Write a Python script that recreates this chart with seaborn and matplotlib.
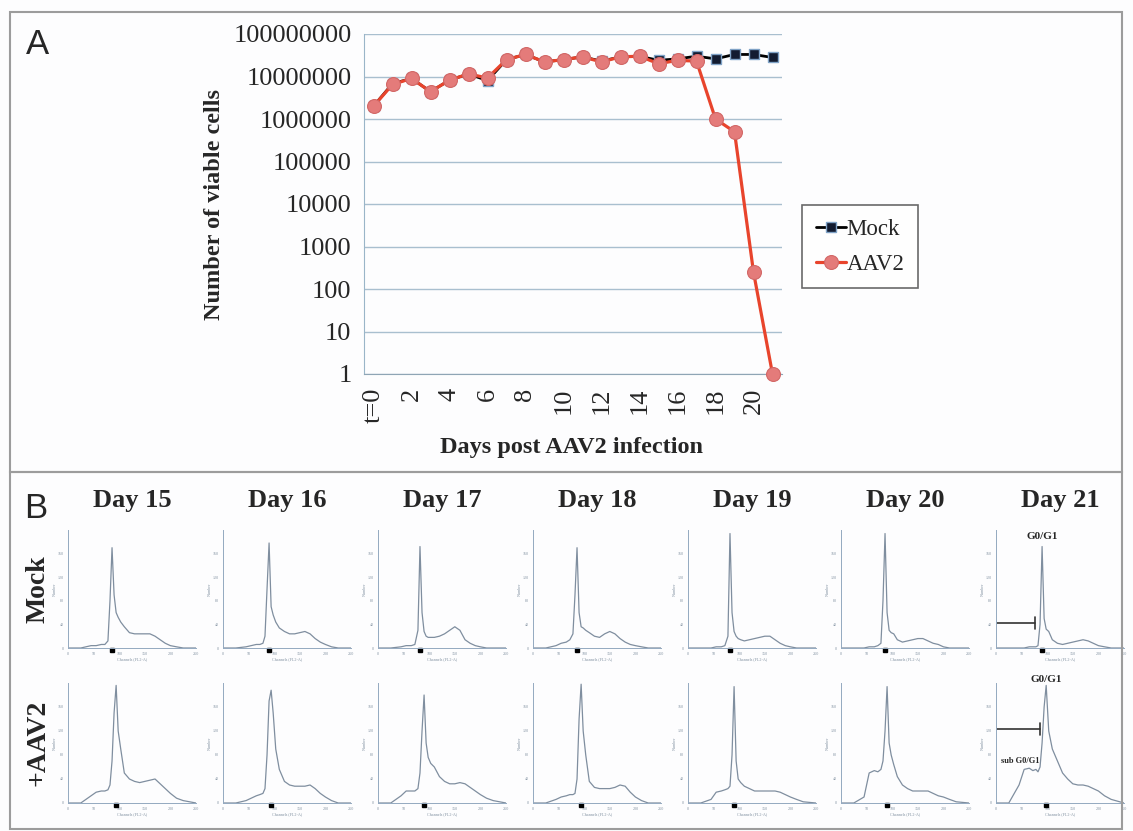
import numpy as np
import pandas as pd
import seaborn as sns
import matplotlib.pyplot as plt
from matplotlib.patches import Rectangle

# ---- panel A data: viable cell counts per day ----
days = list(range(22))
day_ticks = [0, 2, 4, 6, 8, 10, 12, 14, 16, 18, 20]
day_labels = ['t=0', '2', '4', '6', '8', '10', '12', '14', '16', '18', '20']
mock_cells = [2.0e6, 6.8e6, 9.0e6, 4.4e6, 8.2e6, 1.15e7, 8.0e6, 2.5e7, 3.3e7, 2.2e7, 2.5e7,
              2.9e7, 2.3e7, 2.9e7, 3.0e7, 2.4e7, 2.6e7, 3.0e7, 2.6e7, 3.3e7, 3.3e7, 2.8e7]
aav2_cells = [2.0e6, 6.5e6, 9.0e6, 4.4e6, 8.2e6, 1.15e7, 9.2e6, 2.5e7, 3.3e7, 2.2e7, 2.5e7,
              2.9e7, 2.2e7, 2.9e7, 3.0e7, 2.0e7, 2.4e7, 2.3e7, 1.0e6, 5.0e5, 250, 1]
y_ticks = [1, 10, 100, 1000, 10000, 100000, 1000000, 10000000, 100000000]
y_labels = ['1', '10', '100', '1000', '10000', '100000', '1000000', '10000000', '100000000']

# ---- panel B data: DNA content histograms (fraction of max count) ----
hist_days = ['Day 15', 'Day 16', 'Day 17', 'Day 18', 'Day 19', 'Day 20', 'Day 21']
row_names = ['Mock', '+AAV2']
channels = [0, 25, 45, 55, 65, 72, 78, 82, 86, 90, 94, 98, 103, 110, 120, 130, 140, 150,
            160, 170, 180, 190, 200, 212, 225, 250]
mock_hist = [
    [0, 0, .02, .02, .03, .03, .06, .40, .85, .45, .30, .26, .22, .18, .13, .12, .12, .12, .12, .10, .07, .04, .02, .01, 0, 0],
    [0, 0, .01, .02, .03, .03, .04, .10, .50, .89, .35, .28, .22, .17, .14, .12, .12, .13, .14, .12, .08, .05, .03, .01, 0, 0],
    [0, 0, .01, .02, .02, .03, .15, .86, .30, .14, .10, .09, .09, .09, .10, .12, .15, .18, .15, .07, .04, .02, .01, 0, 0, 0],
    [0, 0, .02, .04, .05, .07, .12, .45, .85, .30, .18, .17, .15, .13, .10, .09, .12, .14, .12, .08, .05, .03, .02, .01, 0, 0],
    [0, 0, 0, .01, .01, .02, .10, .97, .30, .14, .10, .08, .07, .06, .07, .08, .09, .10, .10, .07, .04, .02, .01, 0, 0, 0],
    [0, 0, 0, .01, .01, .02, .04, .40, .97, .30, .15, .13, .12, .07, .05, .06, .07, .08, .08, .06, .04, .03, .01, 0, 0, 0],
    [0, 0, 0, 0, .01, .01, .01, .02, .20, .86, .25, .16, .14, .07, .04, .03, .04, .05, .06, .07, .06, .04, .02, .01, 0, 0],
]
aav2_hist = [
    [0, 0, .06, .09, .10, .10, .11, .15, .35, .75, .98, .60, .45, .25, .20, .18, .17, .18, .19, .20, .16, .12, .08, .04, .02, 0],
    [0, 0, .02, .04, .06, .07, .08, .12, .40, .85, .94, .75, .45, .28, .18, .15, .14, .14, .14, .15, .12, .08, .05, .02, 0, 0],
    [0, 0, .06, .10, .10, .10, .12, .25, .60, .90, .50, .38, .33, .30, .22, .18, .16, .16, .17, .16, .13, .10, .07, .04, .02, 0],
    [0, 0, .03, .05, .06, .07, .07, .08, .20, .70, .99, .60, .40, .18, .13, .12, .12, .12, .13, .15, .14, .09, .05, .02, 0, 0],
    [0, 0, .03, .09, .10, .11, .12, .14, .40, .97, .35, .20, .17, .14, .12, .10, .10, .10, .10, .10, .09, .07, .05, .03, .01, 0],
    [0, 0, .05, .25, .27, .26, .28, .35, .60, .97, .50, .40, .32, .22, .15, .12, .10, .10, .10, .10, .08, .06, .05, .03, .01, 0],
    [0, 0, .15, .28, .29, .27, .28, .26, .30, .50, .80, .98, .60, .45, .35, .25, .20, .16, .15, .15, .14, .12, .10, .06, .03, 0],
]
hist_xticks = [0, 50, 100, 150, 200, 250]
hist_yticks = [0, 0.2, 0.4, 0.6, 0.8]
hist_ylabels = ['0', '40', '80', '120', '160']

sns.set_style('white')
plt.rcParams['font.family'] = ['Liberation Serif', 'DejaVu Serif']

W, H = 1133, 831
fig = plt.figure(figsize=(W / 100, H / 100), dpi=100)
fig.patch.set_facecolor('#fdfdfe')


def fx(px):
    return px / W


def fy(py):
    return 1 - py / H


# panel frames
fig.patches.append(Rectangle((fx(10), fy(472)), fx(1112), 460 / H, transform=fig.transFigure,
                             fill=False, ec='#9c9c9c', lw=1.5))
fig.patches.append(Rectangle((fx(10), fy(829)), fx(1112), 357 / H, transform=fig.transFigure,
                             fill=False, ec='#9c9c9c', lw=1.5))

# ---------------- panel A ----------------
ax = fig.add_axes([fx(364), fy(374), fx(782 - 364), (374 - 34) / H])
ax.set_facecolor('none')
df = pd.DataFrame({'day': days + days,
                   'cells': mock_cells + aav2_cells,
                   'group': ['Mock'] * 22 + ['AAV2'] * 22})
sns.lineplot(data=df[df.group == 'Mock'], x='day', y='cells', ax=ax, color='black', lw=2.0,
             marker='s', ms=7.5, markerfacecolor='#121b30', markeredgecolor='#7fa2c6',
             markeredgewidth=1.0, label='Mock', zorder=3, clip_on=False)
sns.lineplot(data=df[df.group == 'AAV2'], x='day', y='cells', ax=ax, color='#e8442c', lw=2.3,
             marker='o', ms=10, markerfacecolor='#e47b7a', markeredgecolor='#d26766',
             markeredgewidth=0.8, label='AAV2', zorder=4, clip_on=False)
ax.set_yscale('log')
ax.set_ylim(1, 1e8)
ax.set_xlim(-0.5, 21.5)
ax.set_yticks(y_ticks)
ax.set_yticklabels(y_labels, fontsize=19)
ax.yaxis.set_minor_locator(plt.NullLocator())
ax.set_xticks(day_ticks)
ax.set_xticklabels(day_labels, fontsize=19, rotation=90)
ax.set_xticks(np.arange(-0.5, 22, 1), minor=True)
ax.tick_params(axis='x', which='major', length=0, pad=10)
ax.tick_params(axis='x', which='minor', length=6, width=1, color='#9ab0c2', direction='out')
ax.tick_params(axis='y', length=6, width=1, color='#a9bfcf', pad=3)
ax.grid(axis='y', color='#a9bfcf', lw=1)
ax.grid(axis='x', visible=False)
for s in ['top', 'right']:
    ax.spines[s].set_visible(False)
ax.spines['left'].set_color('#9ab5c8')
ax.spines['bottom'].set_color('#8fa5b5')
ax.set_xlabel('')
ax.set_ylabel('')
fig.text(fx(215), fy(204), 'Number of viable cells', rotation=90, ha='center', va='center',
         fontsize=17.5, fontweight='bold')
fig.text(fx(572), fy(447), 'Days post AAV2 infection', ha='center', va='center',
         fontsize=17.5, fontweight='bold')
leg = ax.legend(loc='upper left', bbox_to_anchor=(fx(802), fy(205)), bbox_transform=fig.transFigure,
                fontsize=16.5, frameon=True, fancybox=False, edgecolor='#444444', borderaxespad=0,
                handlelength=1.3, handletextpad=0.05, borderpad=0.6, labelspacing=0.6)
leg.get_frame().set_linewidth(1.2)
fig.text(fx(26), fy(28), 'A', fontsize=25, family='Liberation Sans', ha='left', va='top')

# ---------------- panel B ----------------
fig.text(fx(24), fy(492), 'B', fontsize=25, family='Liberation Sans', ha='left', va='top')
col_left = [68, 223, 378, 533, 688, 841, 996]
rows = [(530, 648), (683, 803)]
line_col = '#7f8e9f'
axis_col = '#93a9c0'
for r, (top, bot) in enumerate(rows):
    data = mock_hist if r == 0 else aav2_hist
    fig.text(fx(38), fy((top + bot) / 2), row_names[r], rotation=90, ha='center', va='center',
             fontsize=20, fontweight='bold')
    for c, left in enumerate(col_left):
        hax = fig.add_axes([fx(left), fy(bot), fx(128), (bot - top) / H])
        hax.set_facecolor('none')
        sns.lineplot(x=channels, y=data[c], ax=hax, color=line_col, lw=0.9)
        hax.set_xlim(0, 250)
        hax.set_ylim(0, 1.0)
        for s in ['top', 'right']:
            hax.spines[s].set_visible(False)
        for s in ['left', 'bottom']:
            hax.spines[s].set_color(axis_col)
            hax.spines[s].set_linewidth(0.7)
        hax.set_xticks(hist_xticks)
        hax.set_xticklabels([str(t) for t in hist_xticks], fontsize=3, color='#8090a0')
        hax.set_xticks(range(0, 251, 10), minor=True)
        hax.set_yticks(hist_yticks)
        hax.set_yticklabels(hist_ylabels, fontsize=3, color='#8090a0')
        hax.set_yticks(np.arange(0, 1.0, 0.05), minor=True)
        hax.tick_params(which='both', length=2, width=0.5, color=axis_col, pad=1)
        hax.set_xlabel('Channels (FL2-A)', fontsize=3, color='#8090a0', labelpad=0.5)
        hax.set_ylabel('Number', fontsize=3, color='#8090a0', labelpad=0.5)
        pk = channels[int(np.argmax(data[c]))]
        hax.plot([pk], [-0.015], marker='s', ms=2.2, color='black', clip_on=False)
        if r == 0:
            fig.text(fx(left + 64), fy(500), hist_days[c], ha='center', va='center',
                     fontsize=19, fontweight='bold')

        if c == 6:
            if r == 0:
                hax.text(pk, 0.91, 'G0/G1', ha='center', va='bottom', fontsize=8, fontweight='bold')
                hax.plot([0, 76], [0.21, 0.21], color='#333333', lw=1.2)
                hax.plot([76, 76], [0.16, 0.26], color='#333333', lw=1.2)
            else:
                hax.text(pk, 0.99, 'G0/G1', ha='center', va='bottom', fontsize=8, fontweight='bold')
                hax.plot([0, 85], [0.62, 0.62], color='#333333', lw=1.2)
                hax.plot([85, 85], [0.57, 0.67], color='#333333', lw=1.2)
                hax.text(47, 0.35, 'sub G0/G1', ha='center', va='center', fontsize=6,
                         fontweight='bold')

fig.savefig('out.png', dpi=100, facecolor=fig.get_facecolor())
